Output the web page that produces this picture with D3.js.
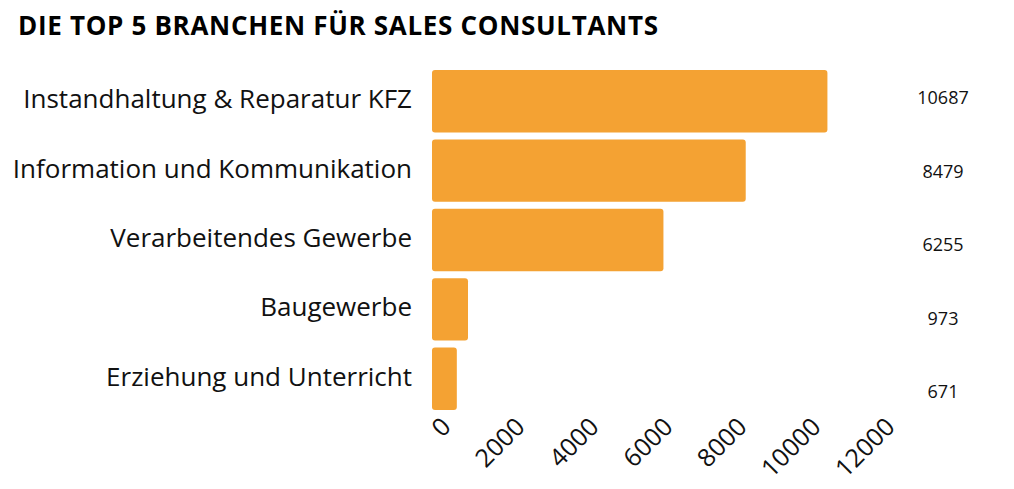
<!DOCTYPE html><html><head><meta charset="utf-8">
<script src="https://cdn.jsdelivr.net/npm/d3@7"></script>
<style>body{margin:0;background:#fff}</style></head><body>
<svg id="c" width="1014" height="489"></svg>
<script>
const categories=["Instandhaltung & Reparatur KFZ","Information und Kommunikation","Verarbeitendes Gewerbe","Baugewerbe","Erziehung und Unterricht"];
const values=[10687,8479,6255,973,671];
const ticks=[0,2000,4000,6000,8000,10000,12000];
const svg=d3.select("#c");
const font="'Open Sans', sans-serif";
svg.append("text").attr("x",18).attr("y",35).attr("font-family",font).attr("font-weight",700).attr("font-size",26).attr("textLength",640).text("DIE TOP 5 BRANCHEN FÜR SALES CONSULTANTS");
const x=d3.scaleLinear().domain([0,12000]).range([432,876]);
const y=d3.scaleBand().domain(categories).range([70,410]).paddingInner(0.1).paddingOuter(0.0);
const ly=d3.scalePoint().domain(categories).range([98,392]);
svg.selectAll("rect").data(values).join("rect").attr("x",x(0)).attr("y",(d,i)=>y(categories[i]))
 .attr("width",d=>x(d)-x(0)).attr("height",y.bandwidth()).attr("rx",3).attr("fill","#F4A233");
svg.selectAll(".cat").data(categories).join("text").attr("x",412).attr("y",d=>y(d)+y.bandwidth()/2-2).attr("dy","0.35em")
 .attr("text-anchor","end").attr("font-family",font).attr("font-size",26).attr("fill","#111").text(d=>d);
svg.selectAll(".val").data(values).join("text").attr("x",943).attr("y",(d,i)=>ly(categories[i])).attr("dy","0.35em")
 .attr("text-anchor","middle").attr("font-family",font).attr("font-size",18).attr("fill","#111").text(d=>d);
const ax=svg.append("g").attr("transform","translate(0,412)").call(d3.axisBottom(x).tickValues(ticks).tickFormat(d=>d).tickSize(0));
ax.select(".domain").remove();
ax.selectAll("text").attr("font-family",font).attr("font-size",25).attr("fill","#111").attr("text-anchor","end")
 .attr("transform","rotate(-45)").attr("dx","0.1em").attr("dy","0.9em");
</script></body></html>
